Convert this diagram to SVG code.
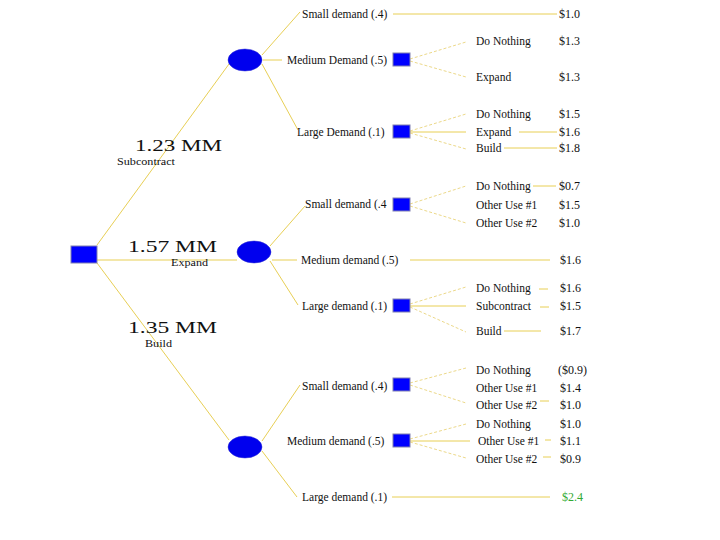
<svg xmlns="http://www.w3.org/2000/svg" width="720" height="540" viewBox="0 0 720 540">
<style>
.ln{stroke:#e8cf55;stroke-width:1;fill:none}
.dl{stroke:#ecd98a;stroke-width:1;fill:none;stroke-dasharray:3,2}
.dn{fill:#0000ff;stroke:#8080b0;stroke-width:1}
.cn{fill:#0000ee;stroke:#3030d0;stroke-width:0.5}
text{font-family:"Liberation Serif","Times New Roman",serif;fill:#111}
.t{font-size:11.5px}
.v{font-size:12px}
.big{font-size:17px}
.s{font-size:10px}
</style>
<rect width="720" height="540" fill="#fff"/>
<g id="connectors">
<line class="ln" x1="97" y1="245" x2="229" y2="64"/>
<line class="ln" x1="97" y1="260" x2="237" y2="260"/>
<line class="ln" x1="97" y1="263" x2="229" y2="440"/>
<line class="ln" x1="262" y1="55" x2="300" y2="12"/>
<line class="ln" x1="263" y1="60" x2="282" y2="60"/>
<line class="ln" x1="262" y1="64" x2="298" y2="130"/>
<line class="ln" x1="393" y1="14" x2="557" y2="14"/>
<line class="dl" x1="410" y1="59" x2="466" y2="42"/>
<line class="dl" x1="410" y1="61" x2="466" y2="77"/>
<line class="dl" x1="410" y1="131" x2="466" y2="114"/>
<line class="ln" x1="410" y1="132" x2="466" y2="132"/>
<line class="dl" x1="410" y1="133" x2="466" y2="149"/>
<line class="ln" x1="519" y1="132" x2="557" y2="132"/>
<line class="ln" x1="504" y1="148" x2="557" y2="148"/>
<line class="ln" x1="270" y1="246" x2="305" y2="206"/>
<line class="ln" x1="272" y1="260" x2="297" y2="260"/>
<line class="ln" x1="270" y1="261" x2="298" y2="305"/>
<line class="dl" x1="410" y1="204" x2="466" y2="186"/>
<line class="dl" x1="410" y1="206" x2="466" y2="223"/>
<line class="ln" x1="533" y1="186" x2="556" y2="186"/>
<line class="ln" x1="410" y1="260" x2="550" y2="260"/>
<line class="dl" x1="410" y1="304" x2="466" y2="287"/>
<line class="ln" x1="410" y1="306" x2="466" y2="306"/>
<line class="dl" x1="410" y1="307" x2="466" y2="332"/>
<line class="ln" x1="539" y1="289" x2="548" y2="289"/>
<line class="ln" x1="540" y1="307" x2="549" y2="307"/>
<line class="ln" x1="504" y1="331" x2="541" y2="331"/>
<line class="ln" x1="262" y1="441" x2="300" y2="385"/>
<line class="ln" x1="262" y1="451" x2="297" y2="497"/>
<line class="dl" x1="410" y1="383" x2="466" y2="368"/>
<line class="dl" x1="410" y1="385" x2="466" y2="403"/>
<line class="ln" x1="540" y1="401" x2="549" y2="401"/>
<line class="dl" x1="410" y1="439" x2="466" y2="424"/>
<line class="ln" x1="410" y1="441" x2="470" y2="441"/>
<line class="dl" x1="410" y1="442" x2="466" y2="458"/>
<line class="ln" x1="545" y1="440" x2="551" y2="440"/>
<line class="ln" x1="543" y1="457" x2="551" y2="457"/>
<line class="ln" x1="392" y1="497" x2="550" y2="497"/>
</g>
<g id="root"><rect class="dn" x="71" y="246" width="26" height="17"/></g>
<g id="branch-labels">
<text class="big" x="135" y="151" textLength="87" lengthAdjust="spacingAndGlyphs">1.23 MM</text>
<text class="s" x="117" y="165" textLength="58" lengthAdjust="spacingAndGlyphs">Subcontract</text>
<text class="big" x="128" y="252" textLength="89" lengthAdjust="spacingAndGlyphs">1.57 MM</text>
<text class="s" x="171" y="266" textLength="37" lengthAdjust="spacingAndGlyphs">Expand</text>
<text class="big" x="128" y="333" textLength="89" lengthAdjust="spacingAndGlyphs">1.35 MM</text>
<text class="s" x="145" y="347" textLength="27" lengthAdjust="spacingAndGlyphs">Build</text>
</g>
<g id="chance-subcontract"><ellipse class="cn" cx="245" cy="60" rx="17" ry="11"/></g>
<g id="chance-expand"><ellipse class="cn" cx="254" cy="252" rx="17" ry="11"/></g>
<g id="chance-build"><ellipse class="cn" cx="245" cy="447" rx="17" ry="11"/></g>
<g id="sub-small"><text class="t" x="302" y="18">Small demand (.4)</text><text class="v" x="559" y="18">$1.0</text></g>
<g id="sub-medium">
<text class="t" x="287" y="64">Medium Demand (.5)</text>
<rect class="dn" x="393" y="53" width="17" height="13"/>
<text class="t" x="476" y="45">Do Nothing</text><text class="v" x="559" y="45">$1.3</text>
<text class="t" x="476" y="81">Expand</text><text class="v" x="559" y="81">$1.3</text>
</g>
<g id="sub-large">
<text class="t" x="297" y="136">Large Demand (.1)</text>
<rect class="dn" x="393" y="125" width="17" height="13"/>
<text class="t" x="476" y="118">Do Nothing</text><text class="v" x="559" y="118">$1.5</text>
<text class="t" x="476" y="136">Expand</text><text class="v" x="559" y="136">$1.6</text>
<text class="t" x="476" y="152">Build</text><text class="v" x="559" y="152">$1.8</text>
</g>
<g id="exp-small">
<text class="t" x="305" y="208">Small demand (.4</text>
<rect class="dn" x="393" y="198" width="17" height="13"/>
<text class="t" x="476" y="190">Do Nothing</text><text class="v" x="559" y="190">$0.7</text>
<text class="t" x="476" y="209">Other Use #1</text><text class="v" x="559" y="209">$1.5</text>
<text class="t" x="476" y="227">Other Use #2</text><text class="v" x="559" y="227">$1.0</text>
</g>
<g id="exp-medium"><text class="t" x="301" y="264">Medium demand (.5)</text><text class="v" x="560" y="264">$1.6</text></g>
<g id="exp-large">
<text class="t" x="302" y="310">Large demand (.1)</text>
<rect class="dn" x="393" y="299" width="17" height="13"/>
<text class="t" x="476" y="292">Do Nothing</text><text class="v" x="560" y="292">$1.6</text>
<text class="t" x="476" y="310">Subcontract</text><text class="v" x="560" y="310">$1.5</text>
<text class="t" x="476" y="335">Build</text><text class="v" x="560" y="335">$1.7</text>
</g>
<g id="bld-small">
<text class="t" x="302" y="390">Small demand (.4)</text>
<rect class="dn" x="393" y="378" width="17" height="13"/>
<text class="t" x="476" y="374">Do Nothing</text><text class="v" x="558" y="374">($0.9)</text>
<text class="t" x="476" y="392">Other Use #1</text><text class="v" x="560" y="392">$1.4</text>
<text class="t" x="476" y="409">Other Use #2</text><text class="v" x="560" y="409">$1.0</text>
</g>
<g id="bld-medium">
<text class="t" x="287" y="445">Medium demand (.5)</text>
<rect class="dn" x="393" y="434" width="17" height="13"/>
<text class="t" x="476" y="428">Do Nothing</text><text class="v" x="560" y="428">$1.0</text>
<text class="t" x="478" y="445">Other Use #1</text><text class="v" x="560" y="445">$1.1</text>
<text class="t" x="476" y="463">Other Use #2</text><text class="v" x="560" y="463">$0.9</text>
</g>
<g id="bld-large"><text class="t" x="302" y="501">Large demand (.1)</text><text class="v" x="562" y="501" style="fill:#33aa33">$2.4</text></g>
</svg>
